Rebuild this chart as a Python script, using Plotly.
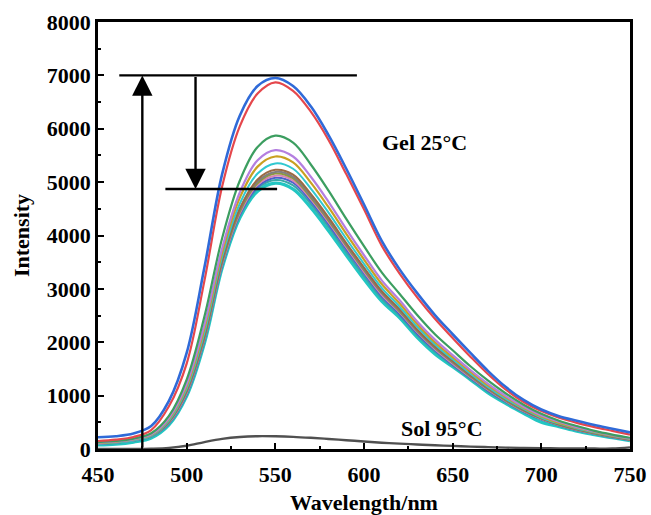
import plotly.graph_objects as go

wavelength = [450, 460, 470, 480, 490, 500, 510, 520, 530, 540, 550, 560, 570, 580, 590,
              600, 610, 620, 630, 640, 650, 660, 670, 680, 690, 700, 710, 720, 730, 740, 750]

blue = [220, 240, 290, 430, 900, 1800, 3400, 5150, 6250, 6800, 6950, 6800, 6420, 5880, 5250,
        4580, 3900, 3370, 2920, 2510, 2150, 1800, 1460, 1160, 920, 740, 615, 530, 450, 380, 310]
red = [150, 175, 225, 355, 800, 1600, 3150, 4920, 6050, 6660, 6870, 6710, 6320, 5790, 5150,
       4490, 3810, 3290, 2840, 2440, 2080, 1730, 1400, 1110, 880, 710, 585, 490, 410, 340, 270]
green = [130, 150, 195, 295, 620, 1300, 2480, 3950, 5030, 5660, 5870, 5740, 5330, 4840, 4310,
         3800, 3310, 2910, 2510, 2150, 1850, 1550, 1280, 1040, 830, 660, 530, 430, 340, 270, 210]
purple = [120, 140, 185, 275, 580, 1220, 2330, 3760, 4810, 5410, 5600, 5480, 5100, 4630, 4120,
          3630, 3160, 2790, 2390, 2050, 1760, 1480, 1220, 990, 790, 630, 510, 410, 330, 260, 200]
gold = [115, 135, 180, 265, 560, 1180, 2260, 3680, 4710, 5290, 5480, 5370, 4990, 4530, 4030,
        3550, 3090, 2730, 2340, 2000, 1720, 1450, 1190, 970, 770, 610, 490, 400, 320, 250, 195]
aqua = [100, 120, 165, 250, 530, 1130, 2180, 3600, 4600, 5160, 5350, 5250, 4880, 4430, 3940,
        3470, 3020, 2670, 2290, 1960, 1680, 1410, 1160, 940, 750, 590, 475, 385, 310, 245, 185]
brown = [110, 130, 175, 255, 520, 1100, 2130, 3540, 4510, 5050, 5230, 5140, 4780, 4340, 3860,
         3400, 2960, 2620, 2240, 1920, 1650, 1385, 1140, 925, 735, 580, 465, 375, 300, 235, 180]
grey = [105, 125, 170, 250, 510, 1080, 2100, 3510, 4480, 5010, 5190, 5100, 4740, 4300, 3830,
        3370, 2930, 2600, 2220, 1900, 1630, 1370, 1130, 915, 725, 575, 460, 370, 295, 230, 178]
olive = [108, 128, 172, 252, 505, 1070, 2080, 3490, 4450, 4980, 5160, 5070, 4710, 4280, 3810,
         3350, 2920, 2580, 2210, 1890, 1620, 1360, 1120, 905, 720, 570, 455, 365, 292, 228, 175]
pink = [100, 120, 165, 245, 495, 1050, 2060, 3460, 4420, 4950, 5120, 5030, 4680, 4250, 3780,
        3320, 2890, 2560, 2190, 1870, 1600, 1345, 1105, 895, 710, 562, 450, 360, 288, 225, 172]
navy = [100, 118, 162, 240, 485, 1030, 2040, 3440, 4390, 4910, 5080, 4990, 4640, 4210, 3740,
        3290, 2860, 2530, 2160, 1850, 1580, 1330, 1090, 885, 700, 555, 445, 355, 285, 222, 170]
teal = [90, 108, 152, 230, 470, 1010, 2010, 3420, 4370, 4880, 5040, 4940, 4590, 4160, 3690,
        3240, 2820, 2500, 2130, 1820, 1560, 1310, 1070, 870, 690, 545, 437, 348, 280, 218, 165]
cyan = [75, 90, 130, 205, 450, 990, 1980, 3390, 4330, 4830, 4980, 4870, 4520, 4090, 3630,
        3180, 2770, 2460, 2090, 1780, 1540, 1300, 1050, 850, 670, 500, 420, 335, 270, 210, 155]
sol = [0, 0, 0, 5, 20, 60, 130, 190, 225, 240, 238, 228, 210, 188, 165,
       140, 118, 100, 85, 70, 58, 45, 35, 26, 20, 15, 12, 10, 8, 8, 30]

series = [
    ("cyan", cyan, "#22c6c2", 3.2),
    ("teal", teal, "#3aa8a8", 2),
    ("navy", navy, "#4a62cc", 2),
    ("pink", pink, "#d884b4", 2),
    ("olive", olive, "#8e9a3c", 2),
    ("grey", grey, "#7f7f7f", 2),
    ("brown", brown, "#9a6a44", 2),
    ("aqua", aqua, "#30c8d0", 2),
    ("gold", gold, "#c9a021", 2.2),
    ("purple", purple, "#b47fe0", 2.2),
    ("green", green, "#3c9e60", 2.2),
    ("red", red, "#e5474c", 2.2),
    ("blue", blue, "#2f6ad8", 2.6),
    ("sol", sol, "#505050", 2.4),
]

FONT = "Liberation Serif, Times New Roman, serif"

fig = go.Figure()
for name, vals, color, w in series:
    fig.add_trace(go.Scatter(x=wavelength, y=vals, mode="lines", name=name,
                             line=dict(color=color, width=w, shape="spline", smoothing=1.0),
                             showlegend=False, hoverinfo="skip"))

# decorations: reference lines and arrows
top_level, low_level = 7000, 4870
fig.add_shape(type="line", x0=462, x1=596, y0=top_level, y1=top_level,
              line=dict(color="black", width=2.4), xref="x", yref="y")
fig.add_shape(type="line", x0=488, x1=551, y0=low_level, y1=low_level,
              line=dict(color="black", width=2.4), xref="x", yref="y")
fig.add_annotation(x=475, y=top_level, ax=475, ay=0, xref="x", yref="y", axref="x", ayref="y",
                   text="", showarrow=True, arrowhead=2, arrowsize=1.7, arrowwidth=2.4,
                   arrowcolor="black")
fig.add_annotation(x=505, y=low_level, ax=505, ay=top_level, xref="x", yref="y", axref="x",
                   ayref="y", text="", showarrow=True, arrowhead=2, arrowsize=1.7,
                   arrowwidth=2.4, arrowcolor="black")
fig.add_annotation(x=634, y=5750, xref="x", yref="y", text="Gel 25°C", showarrow=False,
                   font=dict(family=FONT, size=22, color="black", weight="bold"))
fig.add_annotation(x=644, y=390, xref="x", yref="y", text="Sol 95°C", showarrow=False,
                   font=dict(family=FONT, size=22, color="black", weight="bold"))

axis_common = dict(showline=True, linecolor="black", linewidth=2.5, mirror=True,
                   ticks="inside", tickcolor="black", tickwidth=2, ticklen=6,
                   showgrid=False, zeroline=False,
                   tickfont=dict(family=FONT, size=22, color="black", weight="bold"))

fig.update_xaxes(range=[450, 750], dtick=50, tick0=450, ticklabelstandoff=4,
                 minor=dict(ticks="inside", dtick=25, ticklen=3, tickwidth=2, tickcolor="black"),
                 title=dict(text="Wavelength/nm", standoff=16,
                            font=dict(family=FONT, size=22, color="black", weight="bold")),
                 **axis_common)
fig.update_yaxes(range=[0, 8000], dtick=1000,
                 minor=dict(ticks="inside", dtick=500, ticklen=3, tickwidth=2, tickcolor="black"),
                 title=dict(text="Intensity", standoff=12,
                            font=dict(family=FONT, size=22, color="black", weight="bold")),
                 **axis_common)

fig.update_layout(width=651, height=515, margin=dict(l=98, r=21, t=22, b=66, autoexpand=False),
                  plot_bgcolor="white", paper_bgcolor="white")

fig.write_html("out.html")
